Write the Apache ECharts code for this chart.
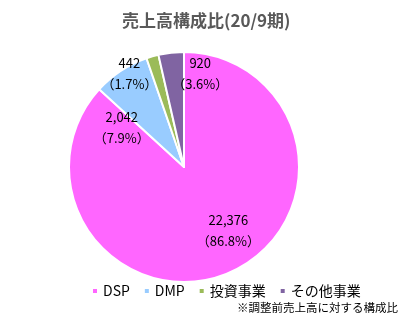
<!DOCTYPE html>
<html>
<head>
<meta charset="utf-8">
<script src="https://cdn.jsdelivr.net/npm/echarts@6/dist/echarts.min.js"></script>
<style>
html,body{margin:0;padding:0;background:#fff;}
#chart{width:414px;height:323px;}
</style>
</head>
<body>
<div id="chart"></div>
<script>
// Segment names, sales values (調整前売上高) and slice colours
const segments = ['DSP', 'DMP', '投資事業', 'その他事業'];
const sales = [22376, 2042, 442, 920];
const colors = ['#FF66FF', '#99CCFF', '#9BBB59', '#8064A2'];
// Per-slice label nudges
const labelOffsets = [[20, 8], [-29, 11], [-38, -35], [23, -33]];

const font = '"Noto Sans CJK JP", "Noto Sans", sans-serif';
const chart = echarts.init(document.getElementById('chart'));

function fmt(v) {
  return v.toLocaleString('en-US');
}

chart.setOption({
  animation: false,
  title: {
    text: '売上高構成比(20/9期)',
    left: 117,
    top: 7,
    textStyle: { fontFamily: font, fontSize: 17, fontWeight: 'bold', color: '#595959' }
  },
  legend: {
    data: segments,
    top: 279,
    left: 86,
    icon: 'rect',
    itemWidth: 6,
    itemHeight: 6,
    itemGap: 13,
    textStyle: { fontFamily: font, fontSize: 14, color: '#000' }
  },
  graphic: [{
    type: 'text',
    right: 16,
    top: 302,
    style: { text: '※調整前売上高に対する構成比', font: '11.5px ' + font, fill: '#000' }
  }],
  series: [{
    type: 'pie',
    center: [184, 167],
    radius: [0, 115],
    startAngle: 90,
    clockwise: true,
    itemStyle: { borderColor: '#fff', borderWidth: 2 },
    label: {
      position: 'inside',
      fontFamily: font,
      fontSize: 13,
      color: '#000',
      lineHeight: 21,
      formatter: p => fmt(p.value) + '\n（' + p.percent.toFixed(1) + '%）'
    },
    labelLine: { show: false },
    data: segments.map((n, i) => ({
      name: n,
      value: sales[i],
      itemStyle: { color: colors[i] },
      label: { offset: labelOffsets[i] }
    }))
  }]
});
</script>
</body>
</html>
